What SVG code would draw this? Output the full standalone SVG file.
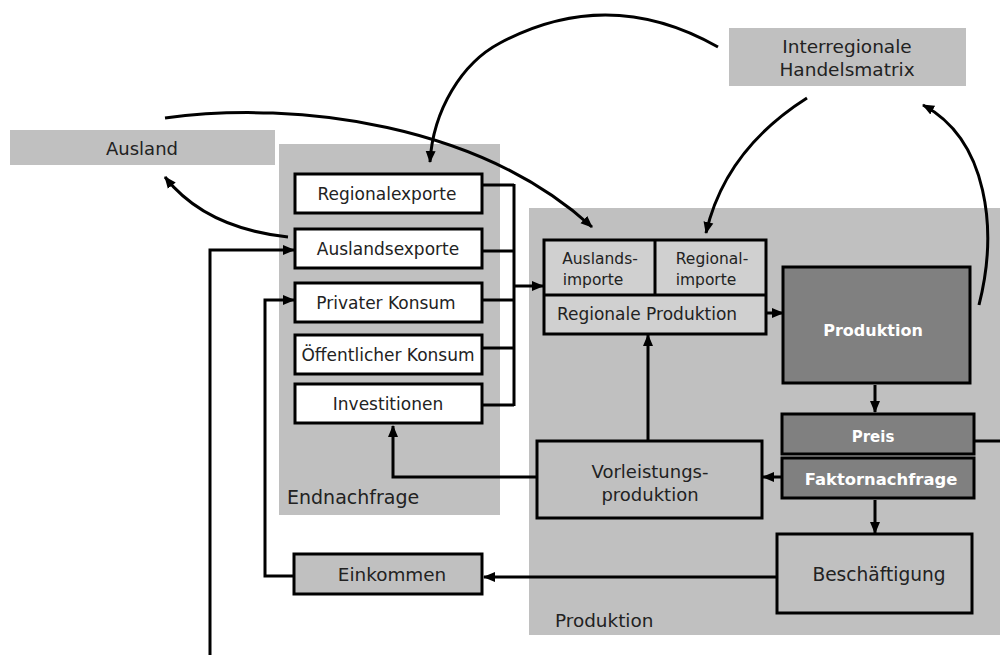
<svg xmlns="http://www.w3.org/2000/svg" width="1000" height="655" viewBox="0 0 1000 655">
<style>
text{font-family:"DejaVu Sans","Liberation Sans",sans-serif;font-size:17px;fill:#222;text-anchor:middle}
.lbl{text-anchor:start}
.wb{fill:#fff;stroke:#000;stroke-width:3}
.gb{fill:#c0c0c0;stroke:#000;stroke-width:3}
.lb{fill:#d0d0d0;stroke:#000;stroke-width:3}
.db{fill:#808080;stroke:#000;stroke-width:3}
.bold{font-weight:bold;fill:#fff;font-size:16px}
.c{fill:none;stroke:#000;stroke-width:3}
</style>
<defs>
<marker id="ah" markerUnits="userSpaceOnUse" markerWidth="12" markerHeight="12" viewBox="0 0 12 12" refX="11" refY="6" orient="auto">
<path d="M0,1 L12,6 L0,11 Z" fill="#000"/>
</marker>
</defs>
<g id="region-endnachfrage"><rect x="279" y="144" width="221" height="371" fill="#c0c0c0"/><text class="lbl" x="287" y="504" style="font-size:19px">Endnachfrage</text></g>
<g id="region-produktion"><rect x="529" y="208" width="471" height="427" fill="#c0c0c0"/><text class="lbl" x="555" y="627" style="font-size:18.4px">Produktion</text></g>
<g id="ausland"><rect x="10" y="130" width="265" height="35" fill="#c0c0c0"/><text x="142" y="155" style="font-size:18px">Ausland</text></g>
<g id="handelsmatrix"><rect x="729" y="28" width="237" height="58" fill="#c0c0c0"/><text x="847" y="53" style="font-size:18.5px">Interregionale</text><text x="847" y="76" style="font-size:18.5px">Handelsmatrix</text></g>
<g id="regionalexporte"><rect class="wb" x="295" y="174" width="187" height="39"/><text x="387" y="200">Regionalexporte</text></g>
<g id="auslandsexporte"><rect class="wb" x="295" y="229" width="187" height="39"/><text x="388" y="255">Auslandsexporte</text></g>
<g id="privater-konsum"><rect class="wb" x="295" y="283" width="187" height="39"/><text x="386" y="309">Privater Konsum</text></g>
<g id="oeffentlicher-konsum"><rect class="wb" x="295" y="335" width="187" height="39"/><text x="388" y="361">Öffentlicher Konsum</text></g>
<g id="investitionen"><rect class="wb" x="295" y="384" width="187" height="39"/><text x="388" y="410">Investitionen</text></g>
<g id="importe-produktion">
<rect class="lb" x="544" y="240" width="222" height="94"/>
<line x1="544" y1="295" x2="766" y2="295" stroke="#000" stroke-width="3"/>
<line x1="655" y1="240" x2="655" y2="295" stroke="#000" stroke-width="3"/>
<text x="600" y="264" style="font-size:15.5px">Auslands-</text><text x="593" y="285" style="font-size:15.5px">importe</text>
<text x="712" y="264" style="font-size:15.5px">Regional-</text><text x="706" y="285" style="font-size:15.5px">importe</text>
<text x="647" y="320">Regionale Produktion</text>
</g>
<g id="produktion"><rect class="db" x="783" y="267" width="187" height="116"/><text class="bold" x="873" y="336">Produktion</text></g>
<g id="preis"><rect class="db" x="782" y="414" width="192" height="40"/><text class="bold" x="873" y="442" style="font-size:15px">Preis</text></g>
<g id="faktornachfrage"><rect class="db" x="782" y="458" width="192" height="40"/><text class="bold" x="881" y="485" style="font-size:16.4px">Faktornachfrage</text></g>
<g id="vorleistungsproduktion"><rect class="gb" x="537" y="441" width="225" height="77"/><text x="650" y="478" style="font-size:18px">Vorleistungs-</text><text x="650" y="501" style="font-size:18px">produktion</text></g>
<g id="beschaeftigung"><rect class="gb" x="777" y="534" width="195" height="79"/><text x="879" y="581" style="font-size:18.6px">Beschäftigung</text></g>
<g id="einkommen"><rect class="gb" x="294" y="554" width="188" height="40"/><text x="392" y="581" style="font-size:18.4px">Einkommen</text></g>
<g id="connectors">
<path class="c" d="M482,185 H514 M482,251 H514 M482,300 H514 M482,348 H514 M482,405 H514 M514,184 V406"/>
<path class="c" d="M514,286 H543" marker-end="url(#ah)"/>
<path class="c" d="M766,313 H783" marker-end="url(#ah)"/>
<path class="c" d="M875,385 V412" marker-end="url(#ah)"/>
<path class="c" d="M974,441 H1000"/>
<path class="c" d="M782,477 H763" marker-end="url(#ah)"/>
<path class="c" d="M648,441 V335" marker-end="url(#ah)"/>
<path class="c" d="M537,477 H393 V426" marker-end="url(#ah)"/>
<path class="c" d="M875,500 V533" marker-end="url(#ah)"/>
<path class="c" d="M777,577 H484" marker-end="url(#ah)"/>
<path class="c" d="M294,576 H265 V300 H294" marker-end="url(#ah)"/>
<path class="c" d="M210,655 V250 H294" marker-end="url(#ah)"/>
<path class="c" d="M288,237 Q205,228 165,177" marker-end="url(#ah)"/>
<path class="c" d="M165,118 C300,100 480,125 592,227" marker-end="url(#ah)"/>
<path class="c" d="M718,47 Q609,-15 500,43 C462,63 433,110 430,162" marker-end="url(#ah)"/>
<path class="c" d="M807,98 Q725,150 706,233" marker-end="url(#ah)"/>
<path class="c" d="M979,305 C998,230 988,140 923,105" marker-end="url(#ah)"/>
</g>
</svg>
